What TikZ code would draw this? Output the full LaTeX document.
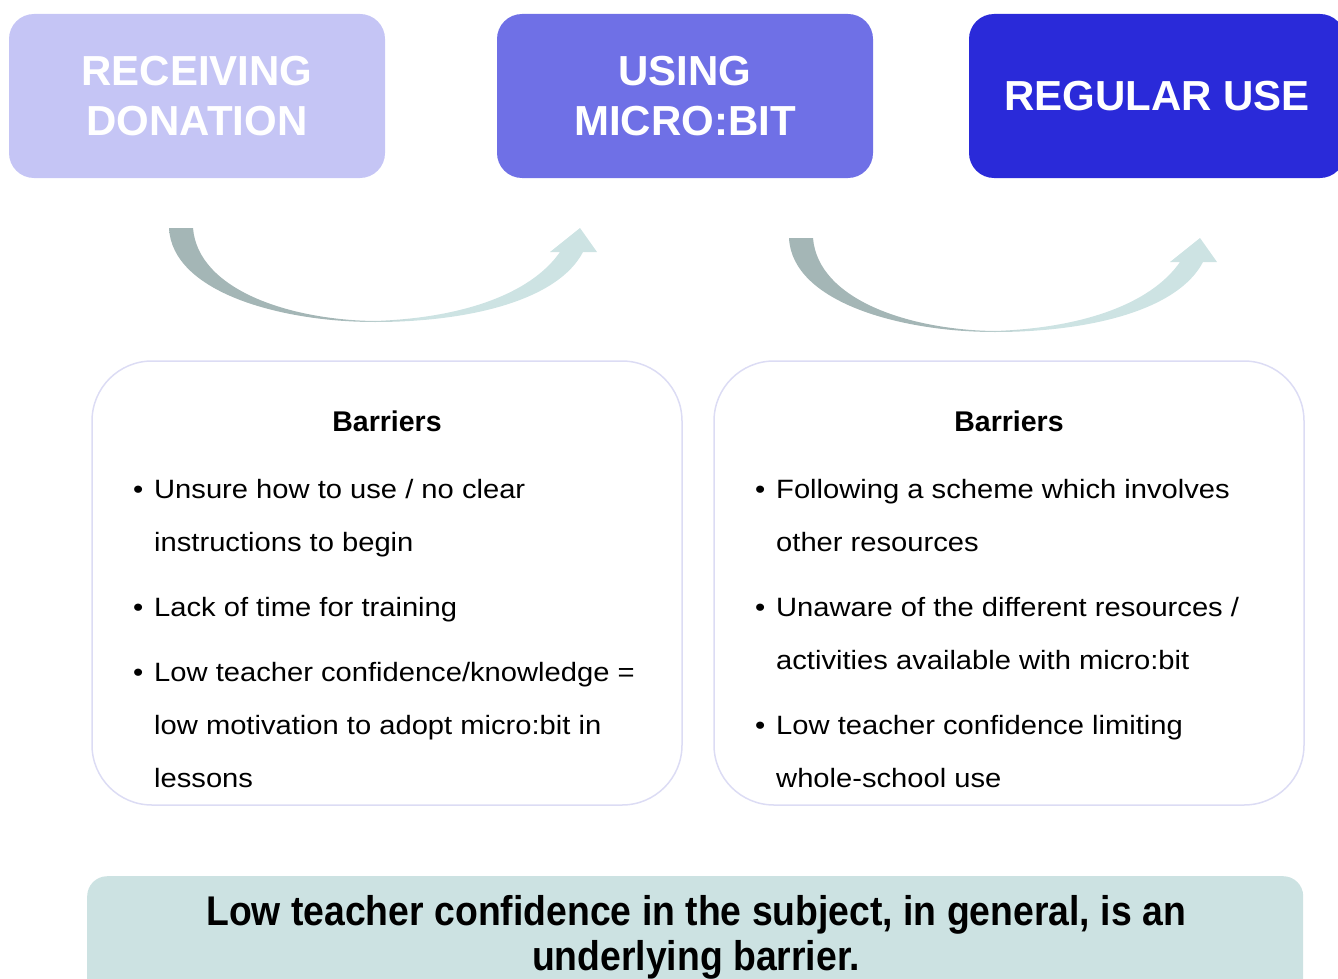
\documentclass[tikz,border=0pt]{standalone}
\usepackage{fontspec}
\setmainfont{Liberation Sans}
\setsansfont{Liberation Sans}
\newfontfamily\narrowsans[FakeStretch=0.9]{Liberation Sans}
\newfontfamily\widesans[FakeStretch=1.1]{Liberation Sans}
\usetikzlibrary{positioning}

\definecolor{stagelight}{HTML}{C5C5F5}
\definecolor{stagemid}{HTML}{6F70E6}
\definecolor{stagedark}{HTML}{2A2AD9}
\definecolor{barborder}{HTML}{DCDCF4}
\definecolor{notefill}{HTML}{CCE2E2}
\definecolor{arrowdark}{HTML}{A4B6B6}
\definecolor{arrowlight}{HTML}{CDE3E3}
\pgfdeclarehorizontalshading{arrowshade}{100bp}{color(0bp)=(arrowdark); color(44bp)=(arrowdark); color(54bp)=(arrowlight); color(100bp)=(arrowlight)}

\newcommand{\bul}{\makebox[21pt][l]{\textbullet}}
\newcommand{\ind}{\hspace*{21pt}}

\begin{document}
\begin{tikzpicture}[
    x=1pt, y=-1pt,
    % Styles
    stage/.style={% For the three stage boxes
        rectangle,
        rounded corners=25pt,
        minimum width=376pt,
        minimum height=164pt,
        inner sep=0pt,
        text=white,
        align=center,
        font=\fontsize{42}{50}\selectfont\bfseries,
    },
    barbox/.style={% For the barrier frames
        rectangle,
        rounded corners=60pt,
        draw=barborder,
        line width=1.5pt,
        minimum width=590pt,
        minimum height=444pt,
    },
    bartitle/.style={
        inner sep=0pt,
        font=\fontsize{28.5}{32}\selectfont\bfseries,
    },
    barlist/.style={
        inner sep=0pt,
        align=left,
        font=\widesans\fontsize{26.5}{53}\selectfont,
    },
    notebox/.style={% For the bottom remark
        rectangle,
        rounded corners=20pt,
        fill=notefill,
        minimum width=1216pt,
        minimum height=150pt,
    },
    notetext/.style={
        inner sep=0pt,
        align=center,
        font=\narrowsans\fontsize{41.5}{45}\selectfont\bfseries,
    },
    ]
    \useasboundingbox (0,0) rectangle (1338,979);

    % Stage boxes
    \node [stage, fill=stagelight] (receive) at (197,96) {RECEIVING\\DONATION};
    \node [stage, fill=stagemid] (using) at (685,96) {USING\\MICRO:BIT};
    \node [stage, fill=stagedark] (regular) at (1157,96) {REGULAR USE};

    % Curved arrows between stages
    \foreach \dx/\dy in {0/0, 620/10}{
        \begin{scope}[shift={(\dx,\dy)}]
            \shade [shading=arrowshade]
                (169,228) .. controls (172,292) and (280,322) .. (375,322)
                .. controls (470,322) and (558,300) .. (583,252)
                -- (597,252) -- (580,228) -- (550,252) -- (560,252)
                .. controls (530,295) and (460,318) .. (375,321)
                .. controls (290,320) and (198,290) .. (193,228) -- cycle;
        \end{scope}
    }

    % Barrier frames
    \node [barbox] (bar1) at (387,583) {};
    \node [barbox] (bar2) at (1009,583) {};

    \node [bartitle, anchor=base] (title1) at (387,431) {Barriers};
    \node [bartitle, anchor=base] (title2) at (1009,431) {Barriers};

    \node [barlist, anchor=north west] (list1) at (133,479) {%
        \bul Unsure how to use / no clear\\
        \ind instructions to begin\\[12pt]
        \bul Lack of time for training\\[12pt]
        \bul Low teacher confidence/knowledge =\\
        \ind low motivation to adopt micro:bit in\\
        \ind lessons};
    \node [barlist, anchor=north west] (list2) at (755,479) {%
        \bul Following a scheme which involves\\
        \ind other resources\\[12pt]
        \bul Unaware of the different resources /\\
        \ind activities available with micro:bit\\[12pt]
        \bul Low teacher confidence limiting\\
        \ind whole-school use};

    % Bottom remark
    \node [notebox, anchor=north west] (note) at (87,876) {};
    \node [notetext, anchor=north] (notetxt) at (696,895)
        {Low teacher confidence in the subject, in general, is an\\underlying barrier.};

\end{tikzpicture}
\end{document}
